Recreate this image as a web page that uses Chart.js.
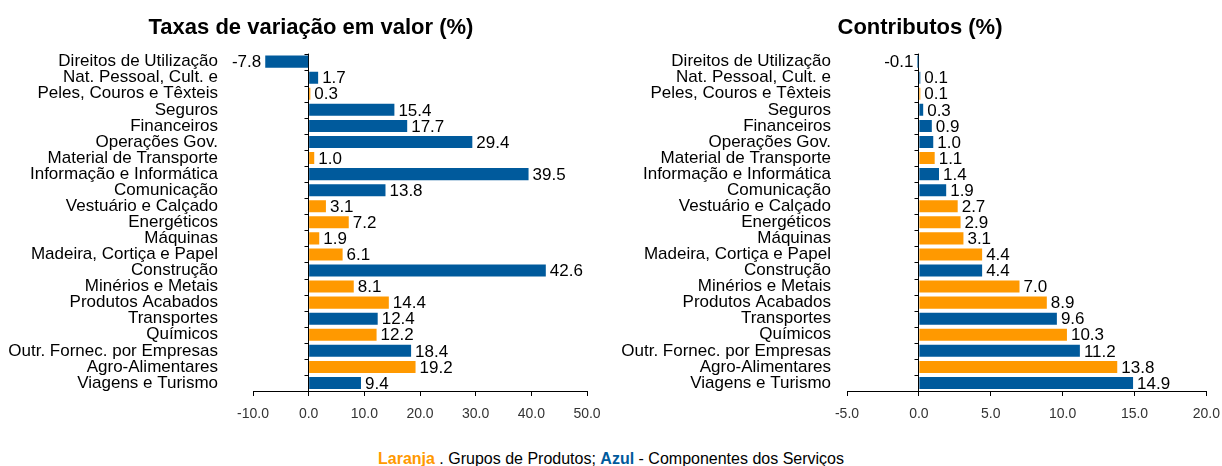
<!DOCTYPE html>
<html lang="pt">
<head>
<meta charset="utf-8">
<title>Taxas de variação e contributos</title>
<script src="https://cdn.jsdelivr.net/npm/chart.js@4"></script>
<style>
    body { margin: 0; background: #fff; width: 1222px; height: 466px; overflow: hidden; position: relative; }
    #graficoTaxas { position: absolute; left: 0; top: 0; }
    #graficoContributos { position: absolute; left: 620px; top: 0; }
    .titulo {
        position: absolute; top: 14px; height: 26px; line-height: 26px; text-align: center;
        font: bold 22px "Liberation Sans", Arial, sans-serif; color: #000;
    }
    #tituloTaxas { left: 0; width: 622px; }
    #tituloContributos { left: 620px; width: 600px; }
    #legenda {
        position: absolute; left: 0; top: 450px; width: 1222px; text-align: center;
        font: 16px "Liberation Sans", Arial, sans-serif; color: #000;
    }
    #legenda .laranja { color: #FF9900; font-weight: bold; }
    #legenda .azul { color: #005A9C; font-weight: bold; }
</style>
</head>
<body>
<canvas id="graficoTaxas" width="620" height="442"></canvas>
<canvas id="graficoContributos" width="610" height="442"></canvas>
<div class="titulo" id="tituloTaxas">Taxas de variação em valor (%)</div>
<div class="titulo" id="tituloContributos">Contributos (%)</div>
<div id="legenda"><span class="laranja">Laranja</span> . Grupos de Produtos; <span class="azul">Azul</span> - Componentes dos Serviços</div>

<script>
// Categorias (de cima para baixo)
const categorias = [
    "Direitos de Utilização", "Nat. Pessoal, Cult. e", "Peles, Couros e Têxteis", "Seguros",
    "Financeiros", "Operações Gov.", "Material de Transporte", "Informação e Informática",
    "Comunicação", "Vestuário e Calçado", "Energéticos", "Máquinas",
    "Madeira, Cortiça e Papel", "Construção", "Minérios e Metais", "Produtos Acabados",
    "Transportes", "Químicos", "Outr. Fornec. por Empresas", "Agro-Alimentares", "Viagens e Turismo"
];

// S = componente dos serviços (azul), P = grupo de produtos (laranja)
const grupos = ["S", "S", "P", "S", "S", "S", "P", "S", "S", "P", "P", "P", "P", "S", "P", "P", "S", "P", "S", "P", "S"];

const taxasVariacao = [-7.8, 1.7, 0.3, 15.4, 17.7, 29.4, 1.0, 39.5, 13.8, 3.1, 7.2, 1.9, 6.1, 42.6, 8.1, 14.4, 12.4, 12.2, 18.4, 19.2, 9.4];
const contributos = [-0.1, 0.1, 0.1, 0.3, 0.9, 1.0, 1.1, 1.4, 1.9, 2.7, 2.9, 3.1, 4.4, 4.4, 7.0, 8.9, 9.6, 10.3, 11.2, 13.8, 14.9];

const ticksTaxas = [-10, 0, 10, 20, 30, 40, 50];
const ticksContributos = [-5, 0, 5, 10, 15, 20];

const AZUL = "#005A9C";
const LARANJA = "#FF9900";
const FONTE = "'Liberation Sans', Arial, sans-serif";

Chart.defaults.font.family = FONTE;
Chart.defaults.color = "#000";

// Desenha o eixo vertical no zero, com marcas entre as categorias
const eixoZero = {
    id: "eixoZero",
    beforeDatasetsDraw(chart) {
        const ctx = chart.ctx;
        const x0 = Math.round(chart.scales.x.getPixelForValue(0)) - 0.5;
        const area = chart.chartArea;
        const escalaY = chart.scales.y;
        const passo = escalaY.getPixelForValue(1) - escalaY.getPixelForValue(0);
        ctx.save();
        ctx.strokeStyle = "#000";
        ctx.lineWidth = 1;
        ctx.beginPath();
        ctx.moveTo(x0, area.top);
        ctx.lineTo(x0, area.bottom);
        for (let i = 0; i <= categorias.length; i++) {
            const y = Math.round(escalaY.getPixelForValue(i) - passo / 2) + 0.5;
            ctx.moveTo(x0 - 4, y);
            ctx.lineTo(x0, y);
        }
        ctx.stroke();
        ctx.restore();
    }
};

// Rótulos com os valores junto às barras
const rotulosValores = {
    id: "rotulosValores",
    afterDatasetsDraw(chart) {
        const ctx = chart.ctx;
        const meta = chart.getDatasetMeta(0);
        const valores = chart.data.datasets[0].data;
        ctx.save();
        ctx.font = "17px " + FONTE;
        ctx.fillStyle = "#000";
        ctx.textBaseline = "middle";
        meta.data.forEach((barra, i) => {
            const v = valores[i];
            if (v < 0) {
                ctx.textAlign = "right";
                ctx.fillText(v.toFixed(1), barra.x - 4, barra.y + 1);
            } else {
                ctx.textAlign = "left";
                ctx.fillText(v.toFixed(1), barra.x + 4, barra.y + 1);
            }
        });
        ctx.restore();
    }
};

function criarGrafico(id, valores, marcas, larguraEixoY, paddingRotulos, direita) {
    const ctx = document.getElementById(id).getContext("2d");
    return new Chart(ctx, {
        type: "bar",
        data: {
            labels: categorias,
            datasets: [{
                data: valores,
                backgroundColor: grupos.map(g => g === "S" ? AZUL : LARANJA),
                barPercentage: 0.75,
                categoryPercentage: 1
            }]
        },
        options: {
            indexAxis: "y",
            responsive: false,
            animation: false,
            devicePixelRatio: 1,
            layout: { padding: { left: 0, right: direita, top: 53.6, bottom: 0 } },
            plugins: {
                legend: { display: false },
                tooltip: { enabled: false },
                title: { display: false }
            },
            scales: {
                x: {
                    min: marcas[0],
                    max: marcas[marcas.length - 1],
                    afterBuildTicks: escala => { escala.ticks = marcas.map(v => ({ value: v })); },
                    grid: { drawOnChartArea: false, drawTicks: true, tickLength: 5, color: "#000" },
                    border: { display: true, color: "#000" },
                    ticks: {
                        color: "#333",
                        font: { size: 14 },
                        padding: 10,
                        callback: v => Number(v).toFixed(1)
                    },
                    afterFit: escala => { escala.height = 51; }
                },
                y: {
                    grid: { display: false },
                    border: { display: false },
                    ticks: { color: "#000", font: { size: 17 }, padding: paddingRotulos, autoSkip: false },
                    afterFit: escala => { escala.width = larguraEixoY; }
                }
            }
        },
        plugins: [eixoZero, rotulosValores]
    });
}

criarGrafico("graficoTaxas", taxasVariacao, ticksTaxas, 253, 27, 33);
criarGrafico("graficoContributos", contributos, ticksContributos, 227, 8, 16);
</script>
</body>
</html>
